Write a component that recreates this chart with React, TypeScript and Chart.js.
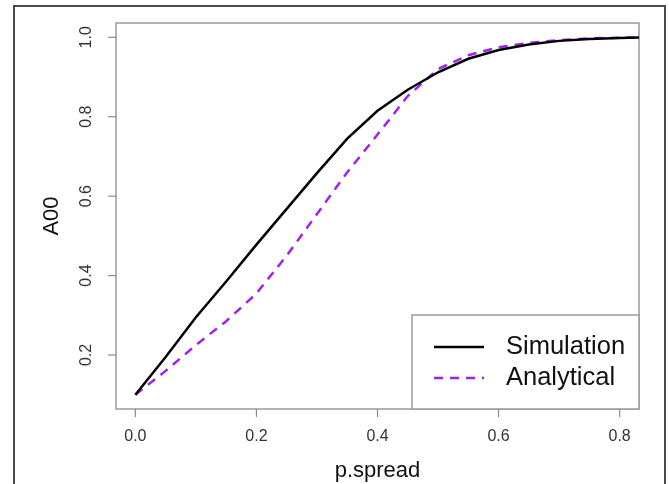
import React, { useEffect, useRef } from "react";
import { Chart, registerables } from "chart.js";

Chart.register(...registerables);

const xValues = [0, 0.05, 0.1, 0.15, 0.2, 0.25, 0.3, 0.35, 0.4, 0.45, 0.5, 0.55, 0.6, 0.65, 0.7, 0.75, 0.8, 0.85];
const simulation = [0.1, 0.195, 0.295, 0.385, 0.478, 0.568, 0.658, 0.745, 0.815, 0.868, 0.912, 0.946, 0.968, 0.982, 0.991, 0.996, 0.998, 1.0];
const analytical = [0.1, 0.16, 0.225, 0.285, 0.355, 0.45, 0.555, 0.66, 0.755, 0.852, 0.92, 0.955, 0.975, 0.986, 0.993, 0.997, 0.999, 1.0];
const xTicks = [0, 0.2, 0.4, 0.6, 0.8];
const yTicks = [0.2, 0.4, 0.6, 0.8, 1.0];
const xTitle = "p.spread";
const yTitle = "A00";
const seriesNames = ["Simulation", "Analytical"];

const FONT = "'Liberation Sans', Arial, Helvetica, sans-serif";
const PURPLE = "#A020F0";

const rPlotPlugin = {
  id: "rPlot",
  beforeDatasetsDraw(chart: any) {
    const { ctx, chartArea: a, scales } = chart;
    const xs = scales.x;
    const ys = scales.y;
    ctx.save();
    // outer frame
    ctx.strokeStyle = "#4a4a4a";
    ctx.lineWidth = 2;
    ctx.strokeRect(14, 6, 651, 520);
    // plot box
    ctx.strokeStyle = "#9a9a9a";
    ctx.lineWidth = 1.5;
    ctx.strokeRect(a.left, a.top, a.right - a.left, a.bottom - a.top);
    // x axis ticks
    ctx.strokeStyle = "#8a8a8a";
    ctx.lineWidth = 1.2;
    ctx.fillStyle = "#333";
    ctx.font = `16px ${FONT}`;
    ctx.textAlign = "center";
    ctx.textBaseline = "middle";
    xTicks.forEach((v) => {
      const px = xs.getPixelForValue(v);
      ctx.beginPath();
      ctx.moveTo(px, a.bottom);
      ctx.lineTo(px, a.bottom + 8);
      ctx.stroke();
      ctx.fillText(v.toFixed(1), px, 437);
    });
    // y axis ticks
    yTicks.forEach((v) => {
      const py = ys.getPixelForValue(v);
      ctx.beginPath();
      ctx.moveTo(a.left, py);
      ctx.lineTo(a.left - 8, py);
      ctx.stroke();
      ctx.save();
      ctx.translate(87, py);
      ctx.rotate(-Math.PI / 2);
      ctx.fillText(v.toFixed(1), 0, 0);
      ctx.restore();
    });
    // axis titles
    ctx.fillStyle = "#111";
    ctx.font = `22px ${FONT}`;
    ctx.fillText(xTitle, (a.left + a.right) / 2, 471);
    ctx.save();
    ctx.translate(52, (a.top + a.bottom) / 2);
    ctx.rotate(-Math.PI / 2);
    ctx.fillText(yTitle, 0, 0);
    ctx.restore();
    ctx.restore();
  },
  afterDatasetsDraw(chart: any) {
    const { ctx, chartArea: a } = chart;
    ctx.save();
    const left = 412;
    const top = 315;
    ctx.fillStyle = "#fff";
    ctx.fillRect(left, top, a.right - left, a.bottom - top);
    ctx.strokeStyle = "#9a9a9a";
    ctx.lineWidth = 1.5;
    ctx.strokeRect(left, top, a.right - left, a.bottom - top);
    const rows = [347, 378];
    const colors = ["#000", PURPLE];
    const dashes = [[], [9, 7]];
    rows.forEach((y, i) => {
      ctx.strokeStyle = colors[i];
      ctx.lineWidth = 2.5;
      ctx.setLineDash(dashes[i]);
      ctx.beginPath();
      ctx.moveTo(434, y);
      ctx.lineTo(484, y);
      ctx.stroke();
      ctx.setLineDash([]);
      ctx.fillStyle = "#111";
      ctx.font = `25.5px ${FONT}`;
      ctx.textAlign = "left";
      ctx.textBaseline = "middle";
      ctx.fillText(seriesNames[i], 506, y);
    });
    ctx.restore();
  },
};

export default function App() {
  const ref = useRef<HTMLCanvasElement | null>(null);
  useEffect(() => {
    if (!ref.current) return;
    const chart = new Chart(ref.current, {
      type: "line",
      data: {
        datasets: [
          {
            label: seriesNames[0],
            data: xValues.map((x, i) => ({ x, y: simulation[i] })),
            borderColor: "#000",
            borderWidth: 2.5,
            pointRadius: 0,
            tension: 0,
            clip: 0,
          },
          {
            label: seriesNames[1],
            data: xValues.map((x, i) => ({ x, y: analytical[i] })),
            borderColor: PURPLE,
            borderWidth: 2.5,
            borderDash: [9, 7],
            pointRadius: 0,
            tension: 0,
            clip: 0,
          },
        ],
      },
      options: {
        responsive: false,
        animation: false,
        layout: { padding: { left: 116, right: 30, top: 23, bottom: 75 } },
        scales: {
          x: { type: "linear", min: -0.032, max: 0.832, display: false },
          y: { type: "linear", min: 0.064, max: 1.036, display: false },
        },
        plugins: { legend: { display: false }, tooltip: { enabled: false } },
      },
      plugins: [rPlotPlugin],
    } as any);
    return () => chart.destroy();
  }, []);
  return (
    <div style={{ position: "fixed", left: 0, top: 0, width: 669, height: 484, background: "#fff" }}>
      <canvas ref={ref} width={669} height={484} style={{ display: "block", width: 669, height: 484 }} />
    </div>
  );
}
